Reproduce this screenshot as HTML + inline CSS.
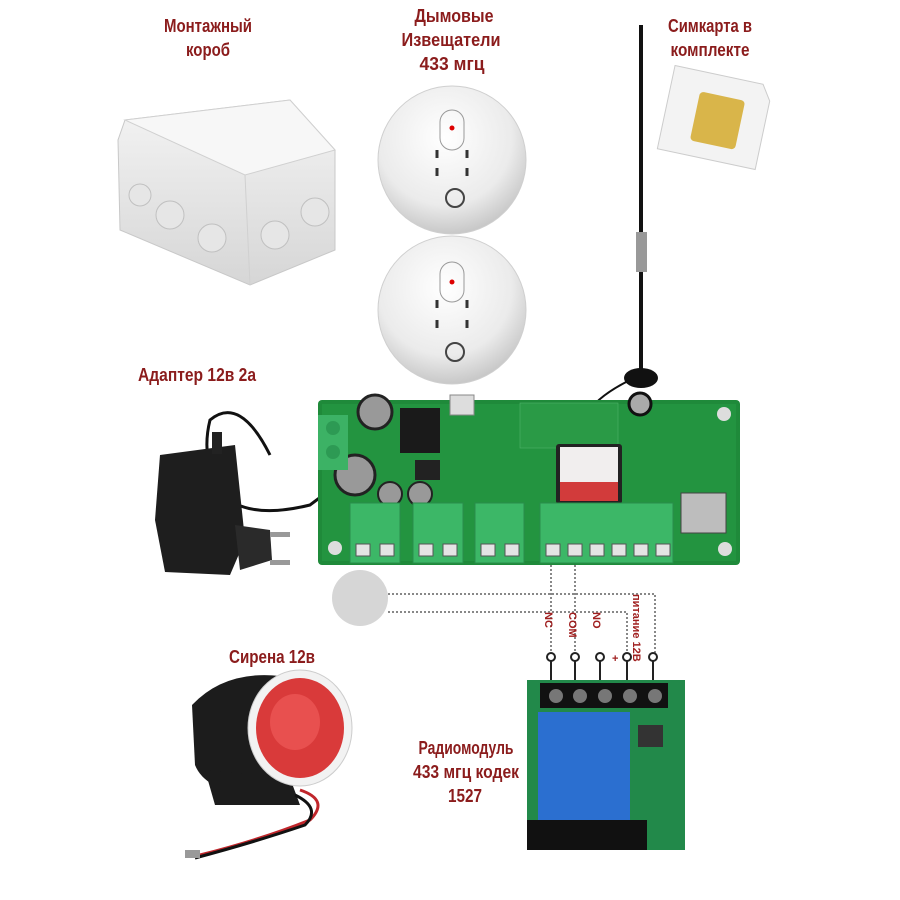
<!DOCTYPE html>
<html><head><meta charset="utf-8"><style>
html,body{margin:0;padding:0;background:#fff;}
svg{display:block}
.t{font-family:"Liberation Sans",sans-serif;font-weight:bold;fill:#8b1c1c;font-size:18px;text-anchor:middle}
.s{font-family:"Liberation Sans",sans-serif;font-weight:bold;fill:#a02020;font-size:11px}
</style></head><body>
<svg width="900" height="900" viewBox="0 0 900 900">
<defs>
<radialGradient id="sd" cx="45%" cy="35%" r="65%"><stop offset="0" stop-color="#ffffff"/><stop offset="0.7" stop-color="#ebebeb"/><stop offset="1" stop-color="#c8c8c8"/></radialGradient>
<linearGradient id="bx" x1="0" y1="0" x2="0" y2="1"><stop offset="0" stop-color="#f4f4f4"/><stop offset="1" stop-color="#d6d6d6"/></linearGradient>
</defs>
<text class="t" x="208" y="32" textLength="88" lengthAdjust="spacingAndGlyphs">Монтажный</text>
<text class="t" x="208" y="56" textLength="44" lengthAdjust="spacingAndGlyphs">короб</text>
<text class="t" x="454" y="22" textLength="79" lengthAdjust="spacingAndGlyphs">Дымовые</text>
<text class="t" x="451" y="46" textLength="99" lengthAdjust="spacingAndGlyphs">Извещатели</text>
<text class="t" x="452" y="70" textLength="65" lengthAdjust="spacingAndGlyphs">433 мгц</text>
<text class="t" x="710" y="32" textLength="84" lengthAdjust="spacingAndGlyphs">Симкарта в</text>
<text class="t" x="710" y="56" textLength="79" lengthAdjust="spacingAndGlyphs">комплекте</text>
<text class="t" x="197" y="381" textLength="118" lengthAdjust="spacingAndGlyphs">Адаптер 12в 2а</text>
<text class="t" x="272" y="663" textLength="86" lengthAdjust="spacingAndGlyphs">Сирена 12в</text>
<text class="t" x="466" y="754" textLength="95" lengthAdjust="spacingAndGlyphs">Радиомодуль</text>
<text class="t" x="466" y="778" textLength="106" lengthAdjust="spacingAndGlyphs">433 мгц кодек</text>
<text class="t" x="465" y="802" textLength="34" lengthAdjust="spacingAndGlyphs">1527</text>

<path d="M125 120 L290 100 L335 150 L335 250 L250 285 L120 230 L118 140 Z" fill="url(#bx)" stroke="#c8c8c8"/>
<path d="M125 120 L290 100 L335 150 L245 175 Z" fill="#f7f7f7" stroke="#d0d0d0"/>
<path d="M245 175 L250 285" stroke="#d0d0d0"/>
<circle cx="170" cy="215" r="14" fill="#e6e6e6" stroke="#c0c0c0"/><circle cx="212" cy="238" r="14" fill="#e6e6e6" stroke="#c0c0c0"/>
<circle cx="275" cy="235" r="14" fill="#e6e6e6" stroke="#c0c0c0"/><circle cx="315" cy="212" r="14" fill="#e6e6e6" stroke="#c0c0c0"/>
<circle cx="140" cy="195" r="11" fill="#e6e6e6" stroke="#c0c0c0"/>

<g>
<circle cx="452" cy="160" r="74" fill="url(#sd)" stroke="#cfcfcf"/>
<rect x="440" y="110" width="24" height="40" rx="12" fill="none" stroke="#999"/>
<circle cx="452" cy="128" r="2.5" fill="#d00"/>
<g stroke="#333" stroke-width="3"><line x1="437" y1="150" x2="437" y2="158"/><line x1="467" y1="150" x2="467" y2="158"/><line x1="437" y1="168" x2="437" y2="176"/><line x1="467" y1="168" x2="467" y2="176"/></g>
<circle cx="455" cy="198" r="9" fill="none" stroke="#444" stroke-width="2"/>
</g>
<g>
<circle cx="452" cy="310" r="74" fill="url(#sd)" stroke="#cfcfcf"/>
<rect x="440" y="262" width="24" height="40" rx="12" fill="none" stroke="#999"/>
<circle cx="452" cy="282" r="2.5" fill="#d00"/>
<g stroke="#333" stroke-width="3"><line x1="437" y1="300" x2="437" y2="308"/><line x1="467" y1="300" x2="467" y2="308"/><line x1="437" y1="320" x2="437" y2="328"/><line x1="467" y1="320" x2="467" y2="328"/></g>
<circle cx="455" cy="352" r="9" fill="none" stroke="#444" stroke-width="2"/>
</g>

<line x1="641" y1="25" x2="641" y2="370" stroke="#111" stroke-width="4"/>
<rect x="636" y="232" width="11" height="40" fill="#999"/>
<ellipse cx="641" cy="378" rx="17" ry="10" fill="#111"/>
<path d="M630 380 Q600 395 590 410" stroke="#111" stroke-width="2" fill="none"/>

<g transform="rotate(12 715 118)">
<path d="M665 75 L755 75 L765 90 L765 160 L665 160Z" fill="#f3f3f3" stroke="#ccc"/>
<rect x="695" y="95" width="46" height="50" rx="4" fill="#d9b54a"/>
</g>

<path d="M270 455 Q240 395 210 420 Q200 460 222 495 Q250 520 310 505 L330 490" fill="none" stroke="#111" stroke-width="3"/>
<path d="M160 455 L235 445 L245 540 L230 575 L165 572 L155 520Z" fill="#1e1e1e"/>
<rect x="212" y="432" width="10" height="22" fill="#222"/>
<path d="M235 525 L270 530 L272 560 L240 570Z" fill="#2a2a2a"/>
<rect x="270" y="532" width="20" height="5" fill="#999"/><rect x="270" y="560" width="20" height="5" fill="#999"/>

<rect x="318" y="400" width="422" height="165" rx="4" fill="#1f8a3a"/>
<rect x="322" y="404" width="414" height="157" fill="#239440"/>
<rect x="520" y="403" width="98" height="45" fill="#2a9a46" stroke="#4fb36a" stroke-width="0.6"/>
<circle cx="375" cy="412" r="17" fill="#999" stroke="#222" stroke-width="3"/>
<circle cx="355" cy="475" r="20" fill="#999" stroke="#222" stroke-width="3"/>
<rect x="400" y="408" width="40" height="45" fill="#1a1a1a"/>
<rect x="415" y="460" width="25" height="20" fill="#222"/>
<circle cx="390" cy="494" r="12" fill="#999" stroke="#222" stroke-width="2"/><circle cx="420" cy="494" r="12" fill="#999" stroke="#222" stroke-width="2"/>
<circle cx="640" cy="404" r="11" fill="#aaa" stroke="#111" stroke-width="3"/>
<rect x="556" y="444" width="66" height="60" rx="3" fill="#222"/>
<rect x="560" y="447" width="58" height="54" fill="#f1eeee"/>
<rect x="560" y="482" width="58" height="19" fill="#d23b3b"/>
<rect x="681" y="493" width="45" height="40" fill="#bdbdbd" stroke="#444"/>
<rect x="318" y="415" width="30" height="55" fill="#3cb265"/>
<circle cx="333" cy="428" r="7" fill="#2d9a54"/><circle cx="333" cy="452" r="7" fill="#2d9a54"/>
<rect x="450" y="395" width="24" height="20" fill="#ddd" stroke="#888"/>
<g fill="#3cb767" stroke="#2a8d4b">
<rect x="350" y="503" width="50" height="60"/>
<rect x="413" y="503" width="50" height="60"/>
<rect x="475" y="503" width="49" height="60"/>
<rect x="540" y="503" width="133" height="60"/>
</g>
<g fill="#e4e4e4" stroke="#555">
<rect x="356" y="544" width="14" height="12"/><rect x="380" y="544" width="14" height="12"/>
<rect x="419" y="544" width="14" height="12"/><rect x="443" y="544" width="14" height="12"/>
<rect x="481" y="544" width="14" height="12"/><rect x="505" y="544" width="14" height="12"/>
<rect x="546" y="544" width="14" height="12"/><rect x="568" y="544" width="14" height="12"/><rect x="590" y="544" width="14" height="12"/><rect x="612" y="544" width="14" height="12"/><rect x="634" y="544" width="14" height="12"/><rect x="656" y="544" width="14" height="12"/>
</g>
<circle cx="724" cy="414" r="7" fill="#ddd"/><circle cx="335" cy="548" r="7" fill="#ddd"/><circle cx="725" cy="549" r="7" fill="#ddd"/>
<circle cx="360" cy="598" r="28" fill="#d6d6d6"/>

<g stroke="#888" stroke-width="2" stroke-dasharray="2 2" fill="none">
<line x1="551" y1="565" x2="551" y2="655"/>
<line x1="575" y1="565" x2="575" y2="655"/>
<polyline points="388,594 655,594 655,655"/>
<polyline points="388,612 627,612 627,655"/>
</g>
<text class="s" transform="translate(545 612) rotate(90)">NC</text>
<text class="s" transform="translate(569 612) rotate(90)">COM</text>
<text class="s" transform="translate(593 612) rotate(90)">NO</text>
<text class="s" transform="translate(633 594) rotate(90)">питание 12В</text>
<text class="s" x="612" y="662" font-size="14">+</text>
<g fill="#fff" stroke="#222" stroke-width="2">
<circle cx="551" cy="657" r="4"/><circle cx="575" cy="657" r="4"/><circle cx="600" cy="657" r="4"/><circle cx="627" cy="657" r="4"/><circle cx="653" cy="657" r="4"/>
</g>
<g stroke="#222" stroke-width="2"><line x1="551" y1="661" x2="551" y2="685"/><line x1="575" y1="661" x2="575" y2="685"/><line x1="600" y1="661" x2="600" y2="685"/><line x1="627" y1="661" x2="627" y2="685"/><line x1="653" y1="661" x2="653" y2="685"/></g>

<rect x="527" y="680" width="158" height="170" fill="#22894a"/>
<rect x="540" y="683" width="128" height="25" fill="#111"/>
<g fill="#777"><circle cx="556" cy="696" r="7"/><circle cx="580" cy="696" r="7"/><circle cx="605" cy="696" r="7"/><circle cx="630" cy="696" r="7"/><circle cx="655" cy="696" r="7"/></g>
<rect x="538" y="712" width="92" height="110" fill="#2b6fd0"/>
<rect x="638" y="725" width="25" height="22" fill="#333"/>
<rect x="527" y="820" width="120" height="30" fill="#111"/>

<path d="M192 705 Q225 670 280 676 L295 700 L290 780 L250 795 Q205 790 195 765Z" fill="#1c1c1c"/>
<path d="M205 770 L290 778 L300 805 L215 805Z" fill="#1c1c1c"/>
<ellipse cx="300" cy="728" rx="52" ry="58" fill="#f2f2f2" stroke="#ccc"/>
<ellipse cx="300" cy="728" rx="44" ry="50" fill="#d93a3a"/>
<ellipse cx="295" cy="722" rx="25" ry="28" fill="#e8504f"/>
<path d="M300 790 Q330 800 310 820 Q260 840 200 855" stroke="#c0262b" stroke-width="3" fill="none"/>
<path d="M295 795 Q322 808 305 825 Q255 842 195 858" stroke="#111" stroke-width="3" fill="none"/>
<rect x="185" y="850" width="15" height="8" fill="#999"/>
</svg>
</body></html>
